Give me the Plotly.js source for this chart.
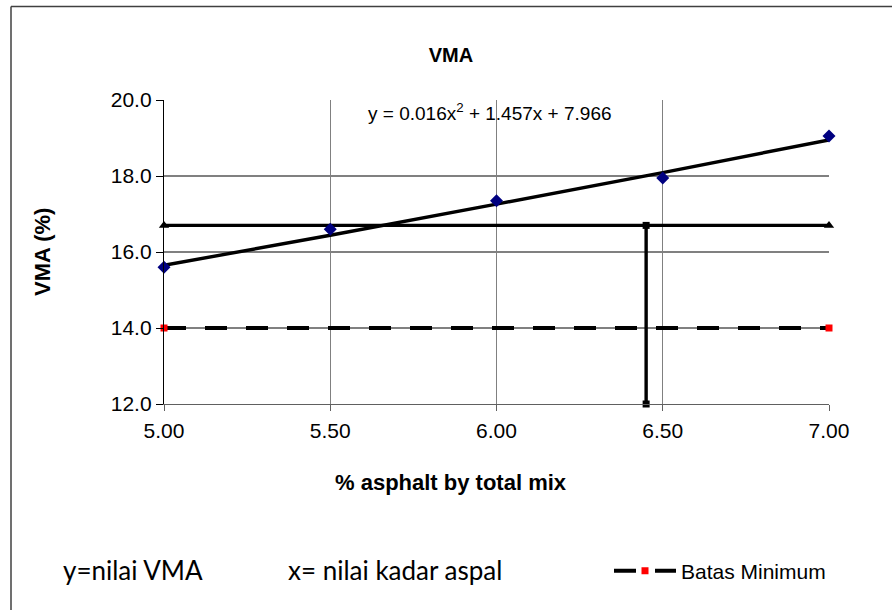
<!DOCTYPE html>
<html>
<head>
<meta charset="utf-8">
<script src="https://cdn.plot.ly/plotly-3.0.1.min.js"></script>
<style>
html,body{margin:0;padding:0;background:#fff;}
#chart{width:892px;height:610px;}
</style>
</head>
<body>
<div id="chart"></div>
<script>
// ---- data ----
var asphaltContent = [5.0, 5.5, 6.0, 6.5, 7.0];
var vmaValues = [15.6, 16.6, 17.35, 17.95, 19.05];
var trendValues = [15.65, 16.44, 17.26, 18.09, 18.95];
var equationText = "y = 0.016x<sup>2</sup> + 1.457x + 7.966";
var optimumX = [5.0, 7.0];
var optimumVMA = [16.7, 16.7];
var verticalX = [6.45, 6.45];
var verticalY = [16.7, 12.0];
var minLimitX = [5.0, 7.0];
var minLimitY = [14.0, 14.0];
var xTicks = [5.0, 5.5, 6.0, 6.5, 7.0];
var xTickLabels = ["5.00", "5.50", "6.00", "6.50", "7.00"];
var yTicks = [12, 14, 16, 18, 20];
var yTickLabels = ["12.0", "14.0", "16.0", "18.0", "20.0"];

// ---- layout helpers ----
var W = 892, H = 610;
var PL = 164, PR = 829, PT = 100, PB = 404;
function px2x(px){ return (px - PL) / (PR - PL); }
function py2y(py){ return (PB - py) / (PB - PT); }

var arial = "Liberation Sans, Arial, sans-serif";

var traces = [
  {x: asphaltContent, y: trendValues, mode: "lines", line: {color: "#000", width: 3.4}, showlegend: false, hoverinfo: "skip", cliponaxis: false},
  {x: optimumX, y: optimumVMA, mode: "lines+markers", line: {color: "#000", width: 3.4},
   marker: {symbol: "triangle-up", size: 9, color: "#000"}, showlegend: false, cliponaxis: false},
  {x: verticalX, y: verticalY, mode: "lines+markers", line: {color: "#000", width: 3.4},
   marker: {symbol: "square", size: 7, color: "#000"}, showlegend: false, cliponaxis: false},
  {x: minLimitX, y: minLimitY, mode: "lines+markers", name: "Batas Minimum",
   line: {color: "#000", width: 4, dash: "22px,19px"},
   marker: {symbol: "square", size: 7, color: "#ff0000"}, showlegend: true, cliponaxis: false},
  {x: asphaltContent, y: vmaValues, mode: "markers", marker: {symbol: "diamond", size: 10, color: "#000080"},
   showlegend: false, cliponaxis: false}
];

var layout = {
  width: W, height: H,
  margin: {l: PL, r: W - PR, t: PT, b: H - PB, pad: 0},
  paper_bgcolor: "#fff", plot_bgcolor: "#fff",
  font: {family: arial, size: 20, color: "#000"},
  title: {text: "<b>VMA</b>", font: {family: arial, size: 20, color: "#000"},
          xref: "container", yref: "container", x: 451 / W, y: 1 - 55 / H, xanchor: "center", yanchor: "middle"},
  xaxis: {range: [5, 7], tickvals: xTicks, ticktext: xTickLabels, showgrid: true, gridcolor: "#808080", gridwidth: 1.2,
          zeroline: false, showline: true, linecolor: "#606060", linewidth: 1.2, ticks: "outside", ticklen: 6,
          tickcolor: "#606060", tickfont: {family: arial, size: 21}, ticklabelstandoff: 2, fixedrange: true},
  yaxis: {range: [12, 20], tickvals: yTicks, ticktext: yTickLabels, showgrid: true, gridcolor: "#808080", gridwidth: 1.2,
          zeroline: false, showline: true, linecolor: "#000", linewidth: 1.2, ticks: "outside", ticklen: 7,
          tickcolor: "#000", tickfont: {family: arial, size: 21}, fixedrange: true},
  showlegend: true,
  legend: {x: px2x(609), y: py2y(571), xanchor: "left", yanchor: "middle", itemwidth: 62,
           font: {family: arial, size: 21}, bgcolor: "rgba(0,0,0,0)", tracegroupgap: 0},
  annotations: [
    {text: equationText, xref: "paper", yref: "paper", x: px2x(366), y: py2y(112), xanchor: "left", yanchor: "middle",
     showarrow: false, font: {family: arial, size: 19, color: "#000"}},
    {text: "<b>VMA (%)</b>", xref: "paper", yref: "paper", x: px2x(42), y: py2y(252), xanchor: "center", yanchor: "middle",
     textangle: -90, showarrow: false, font: {family: arial, size: 22, color: "#000"}},
    {text: "<b>% asphalt by total mix</b>", xref: "paper", yref: "paper", x: px2x(451), y: py2y(482), xanchor: "center", yanchor: "middle",
     showarrow: false, font: {family: arial, size: 22, color: "#000"}},
    {text: "y=nilai VMA", xref: "paper", yref: "paper", x: px2x(61), y: py2y(570), xanchor: "left", yanchor: "middle",
     showarrow: false, font: {family: "Lato, Carlito, sans-serif", size: 26, color: "#000"}},
    {text: "x= nilai kadar aspal", xref: "paper", yref: "paper", x: px2x(286), y: py2y(570), xanchor: "left", yanchor: "middle",
     showarrow: false, font: {family: "Lato, Carlito, sans-serif", size: 26, color: "#000"}}
  ],
  shapes: [
    {type: "line", xref: "paper", yref: "paper", x0: px2x(11), x1: px2x(W), y0: py2y(6.5), y1: py2y(6.5), line: {color: "#404040", width: 1.5}},
    {type: "line", xref: "paper", yref: "paper", x0: px2x(11), x1: px2x(11), y0: py2y(6.5), y1: py2y(H), line: {color: "#404040", width: 1.5}}
  ]
};

Plotly.newPlot("chart", traces, layout, {staticPlot: true, displayModeBar: false});
</script>
</body>
</html>
